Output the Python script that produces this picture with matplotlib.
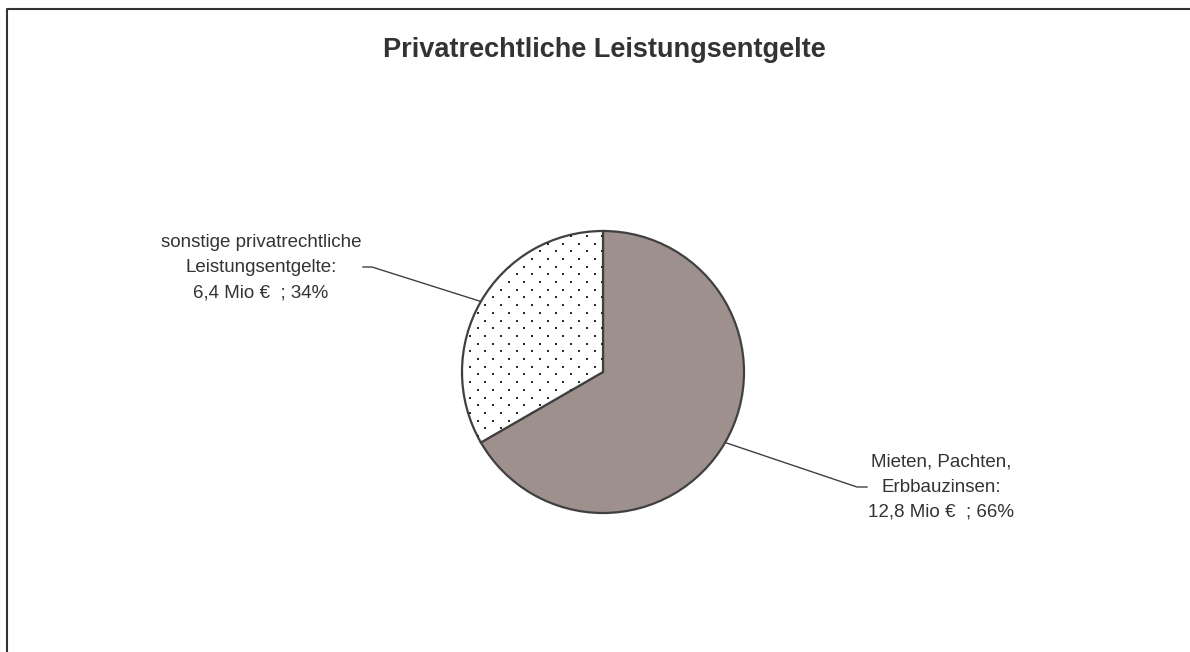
"""Pie chart: Privatrechtliche Leistungsentgelte (Mio EUR)."""
import numpy as np
import matplotlib
matplotlib.use("Agg")
import matplotlib.pyplot as plt

TITLE = "Privatrechtliche Leistungsentgelte"
labels = ["Mieten, Pachten,\nErbbauzinsen:", "sonstige privatrechtliche\nLeistungsentgelte:"]
values = [12.8, 6.4]          # Mio EUR
shares = [66, 34]             # percent as printed
colors = ["#9e918d", "white"]
dotted = [False, True]

TEXT = "#333333"
EDGE = "#404040"

plt.rcParams["font.family"] = ["Liberation Sans", "DejaVu Sans"]

W, H = 1190, 652
fig = plt.figure(figsize=(W / 100, H / 100), dpi=100)
ax = fig.add_axes([0, 0, 1, 1])

# pie in pixel space (y up)
cx, cy, r = 603, H - 372, 141
wedges, _ = ax.pie(values, colors=colors, startangle=90, counterclock=False,
                   center=(cx, cy), radius=r, frame=True,
                   wedgeprops=dict(edgecolor=EDGE, linewidth=1.6))
ax.set_xlim(0, W)
ax.set_ylim(0, H)
ax.set_aspect("equal")
ax.axis("off")

# sparse dot fill pattern (staggered grid), clipped to the wedge
dx, dy = 15.6, 7.7
for w, d in zip(wedges, dotted):
    if not d:
        continue
    gy = np.arange(cy - r, cy + r + dy, dy)
    px, py = [], []
    for i, yy in enumerate(gy):
        off = 0 if i % 2 == 0 else dx / 2
        xs = np.arange(cx - r - off, cx + r, dx)
        px.extend(xs)
        py.extend([yy] * len(xs))
    sc = ax.scatter(px, py, s=1.3, c="#2a2a2a", marker="s", linewidths=0, zorder=3)
    sc.set_clip_path(w)
    w.set_zorder(2)
    # redraw the outline above the dots
    w.set_zorder(2)

# labels with leader lines
lab_pos = [(941, H - 487), (261, H - 268)]
elbows = [((857, H - 487), (867, H - 487)), ((372, H - 267), (363, H - 267))]
for w, lab, val, pct, (tx, ty), (e1, e2) in zip(wedges, labels, values, shares, lab_pos, elbows):
    mid = np.deg2rad((w.theta1 + w.theta2) / 2)
    ex, ey = cx + r * np.cos(mid), cy + r * np.sin(mid)
    ax.plot([ex, e1[0], e2[0]], [ey, e1[1], e2[1]], color=EDGE, lw=1.0)
    txt = f"{lab}\n{val:.1f}".replace(".", ",") + f" Mio €  ; {pct}%"
    ax.text(tx, ty, txt, ha="center", va="center", fontsize=13.5, color=TEXT,
            linespacing=1.64)

ax.text(604, H - 57, TITLE, ha="center", va="baseline", fontsize=19.5,
        fontweight="bold", color=TEXT)

# chart frame (top and left edges visible)
ax.plot([7, 7, W], [0, H - 9, H - 9], color="#333333", lw=1.5, clip_on=False)

fig.savefig("out.png", dpi=100, facecolor="white")
